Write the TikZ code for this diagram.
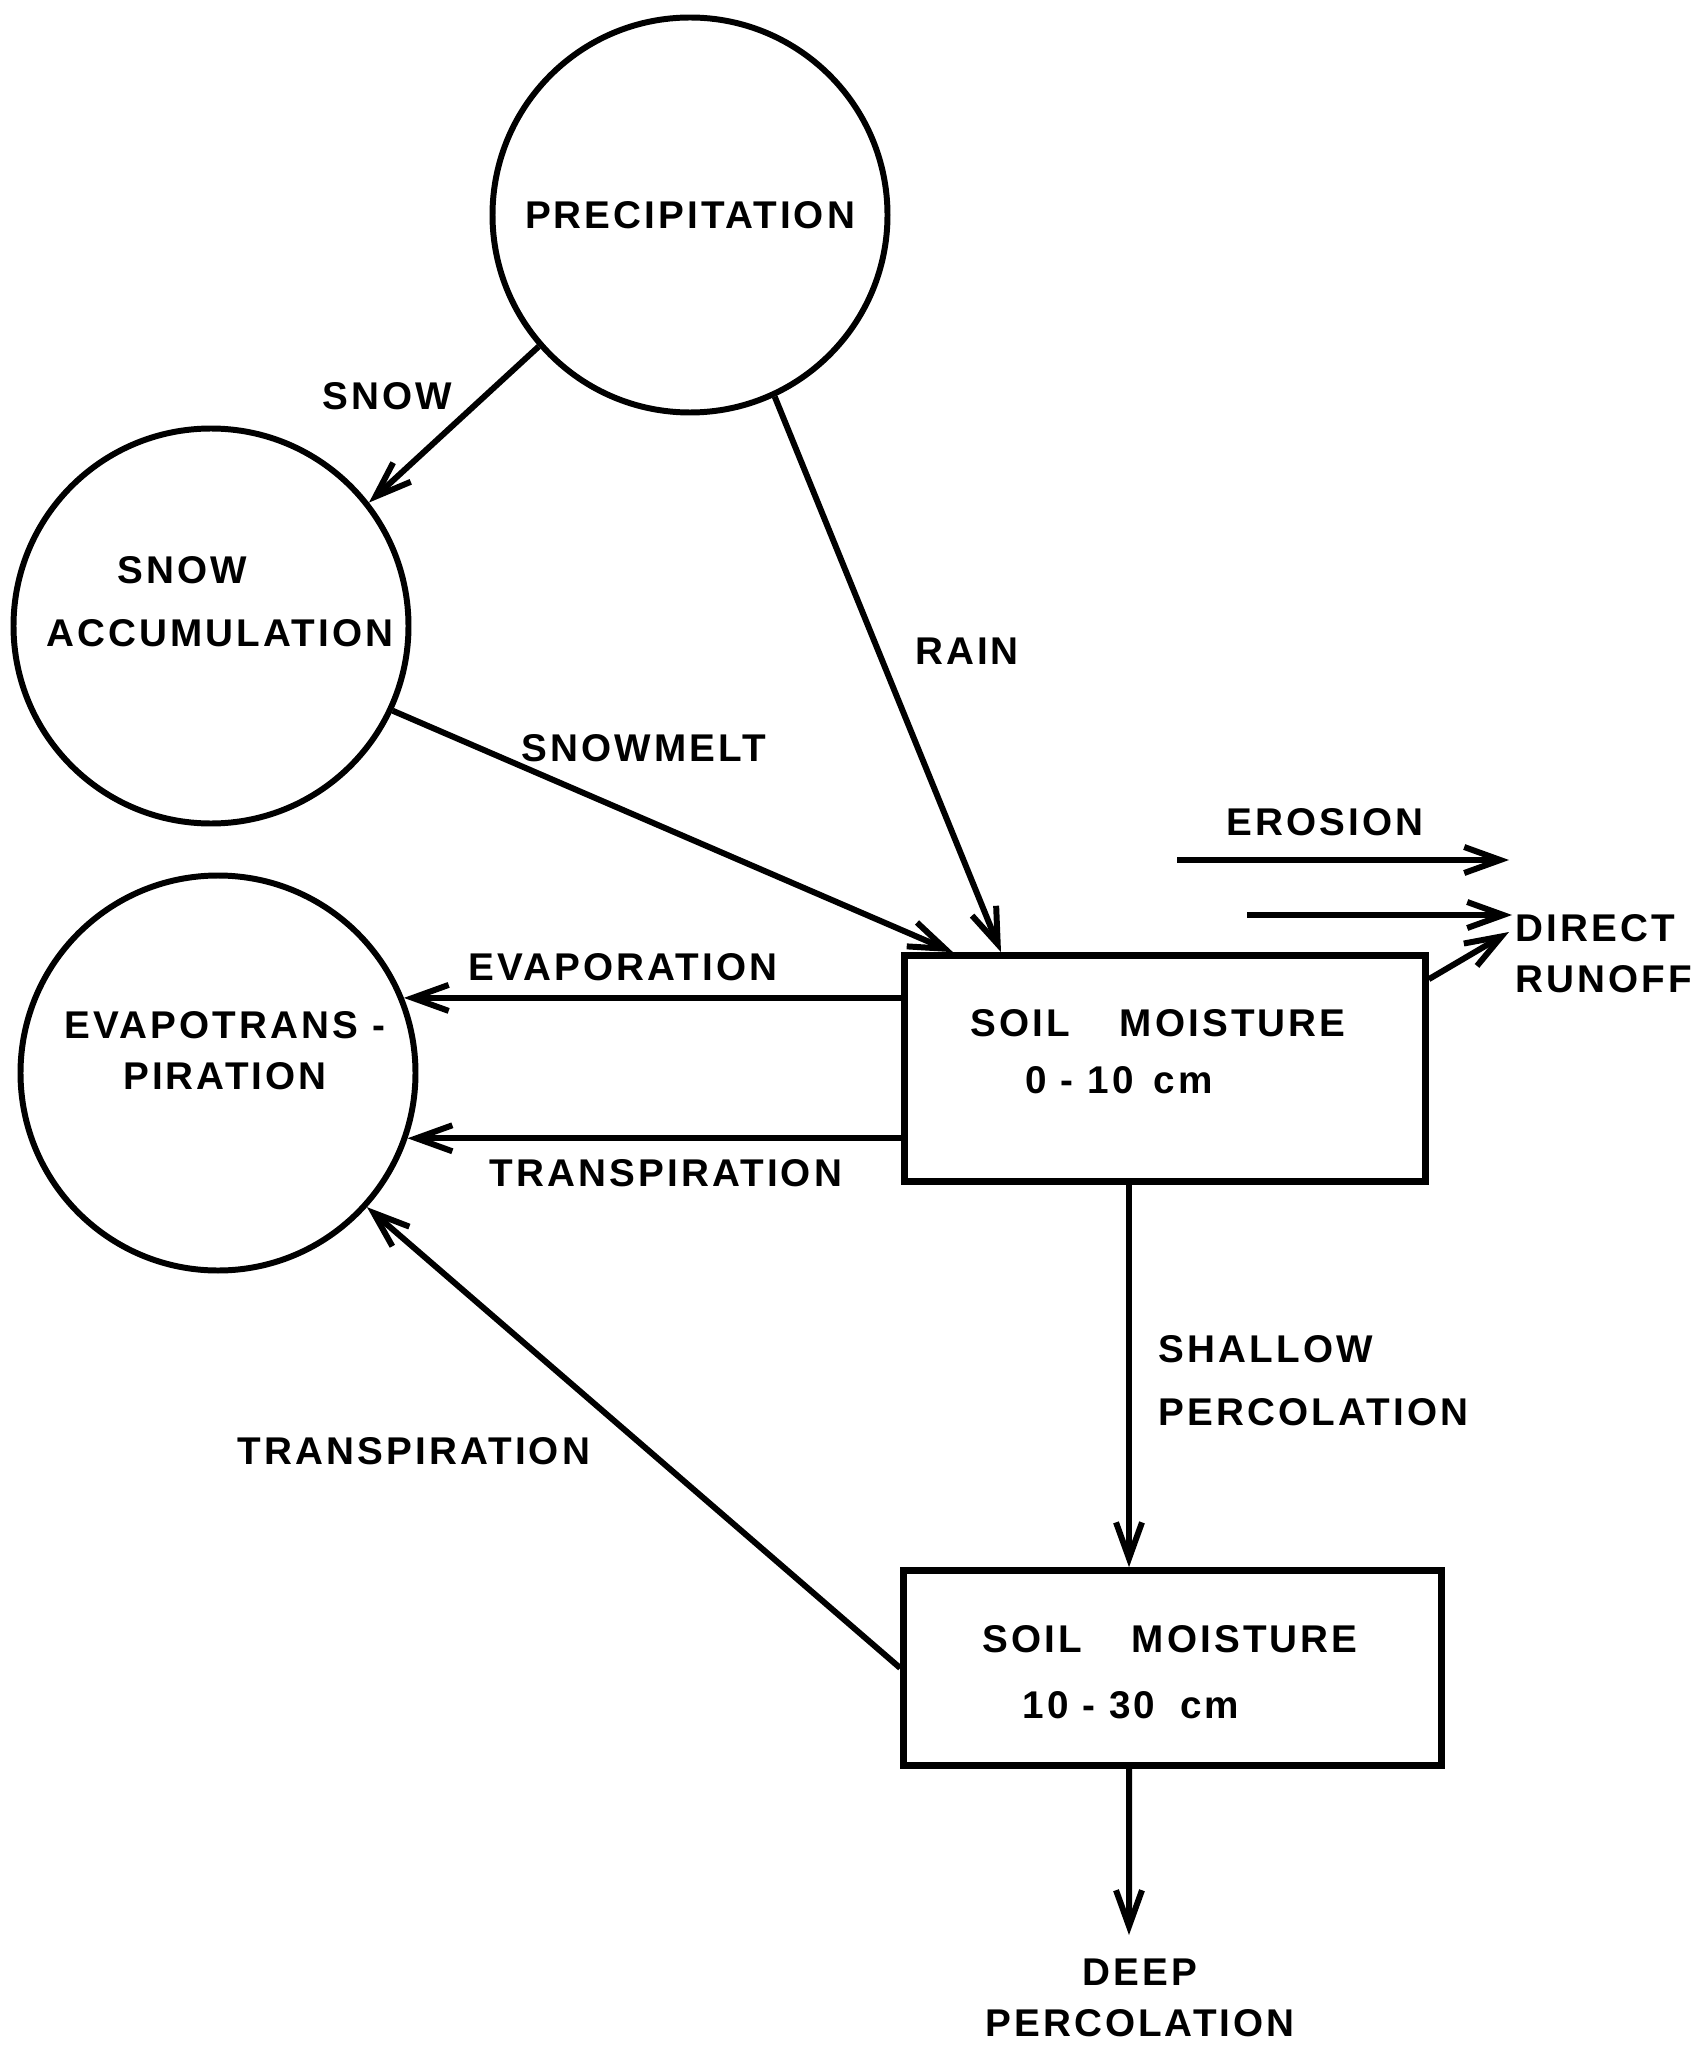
\documentclass[tikz,border=0pt]{standalone}
\usepackage{fontspec}
\newfontfamily\lblfont{Liberation Sans}[LetterSpace=8]
\usetikzlibrary{arrows.meta, positioning, calc}

\begin{document}
\begin{tikzpicture}[
    >={Straight Barb[length=3.6mm, width=2.6mm]},
    pool/.style={
        circle,
        draw=black,
        line width=1.7pt,
        minimum size=3.95cm,
        inner sep=0pt
    },
    store/.style={
        rectangle,
        draw=black,
        line width=1.9pt,
        inner sep=0pt
    },
    lbl/.style={
        font=\lblfont\bfseries\fontsize{11}{14.5}\selectfont,
        text=black,
        inner sep=0pt
    },
    flow/.style={
        draw=black,
        line width=1.7pt,
        ->
    }
]
\useasboundingbox (0,0) rectangle (16.97,-20.47);

% Stores
\node[pool] (precip) at (6.90,-2.15) {};
\node[lbl] (precip-t) at (precip.center) {PRECIPITATION};

\node[pool] (snowacc) at (2.11,-6.26) {};
\node[lbl] (snowacc-a) at (1.82,-5.70) {SNOW};
\node[lbl] (snowacc-b) at (2.20,-6.33) {ACCUMULATION};

\node[pool] (evap) at (2.18,-10.73) {};
\node[lbl, align=center] (evap-t) at (2.25,-10.51) {EVAPOTRANS -\\PIRATION};

\node[store, minimum width=5.21cm, minimum height=2.26cm] (sm1) at (11.65,-10.685) {};
\node[lbl] (sm1-a) at (11.58,-10.23) {SOIL\hspace{0.5cm}MOISTURE};
\node[lbl] (sm1-b) at (11.19,-10.80) {0 - 10\hspace{0.2cm}cm};

\node[store, minimum width=5.38cm, minimum height=1.95cm] (sm2) at (11.725,-16.68) {};
\node[lbl] (sm2-a) at (11.70,-16.39) {SOIL\hspace{0.5cm}MOISTURE};
\node[lbl] (sm2-b) at (11.31,-17.05) {10 - 30\hspace{0.25cm}cm};

% Flow labels
\node[lbl] (snow-l) at (3.87,-3.96) {SNOW};
\node[lbl] (rain-l) at (9.67,-6.51) {RAIN};
\node[lbl] (melt-l) at (6.44,-7.48) {SNOWMELT};
\node[lbl] (ero-l) at (13.25,-8.22) {EROSION};
\node[lbl, align=left, anchor=west] (runoff-l) at (15.15,-9.54) {DIRECT\\RUNOFF};
\node[lbl] (evapor-l) at (6.23,-9.67) {EVAPORATION};
\node[lbl] (trans1-l) at (6.66,-11.73) {TRANSPIRATION};
\node[lbl] (trans2-l) at (4.14,-14.51) {TRANSPIRATION};
\node[lbl, align=left, anchor=west] (shallow-l) at (11.58,-13.81) {SHALLOW\\[3.5pt]PERCOLATION};
\node[lbl, align=center] (deep-l) at (11.40,-19.98) {DEEP\\PERCOLATION};

% Free ends
\coordinate (ero-a) at (11.77,-8.60);
\coordinate (ero-b) at (15.09,-8.60);
\coordinate (run-a) at (12.47,-9.15);
\coordinate (run-b) at (15.12,-9.15);
\coordinate (run-c) at (15.09,-9.32);
\coordinate (deep-b) at (11.29,-19.35);

% Flows
\draw[flow] (precip.221) -- (snowacc.38);
\draw[flow] (precip.295) -- ([xshift=-1.64cm]sm1.north);
\draw[flow] (snowacc.-25) -- ([xshift=-2.12cm]sm1.north);
\draw[flow] (evap.22 -| sm1.west) -- (evap.22);
\draw[flow] (evap.-19 -| sm1.west) -- (evap.-19);
\draw[flow] (sm2.west) -- (evap.-42);
\draw[flow] ([xshift=-0.36cm]sm1.south) -- ([xshift=-0.36cm]sm1.south |- sm2.north);
\draw[flow] ([xshift=-0.435cm]sm2.south) -- (deep-b);
\draw[flow] (ero-a) -- (ero-b);
\draw[flow] (run-a) -- (run-b);
\draw[flow] ([yshift=-0.27cm]sm1.north east) -- (run-c);

\end{tikzpicture}
\end{document}
